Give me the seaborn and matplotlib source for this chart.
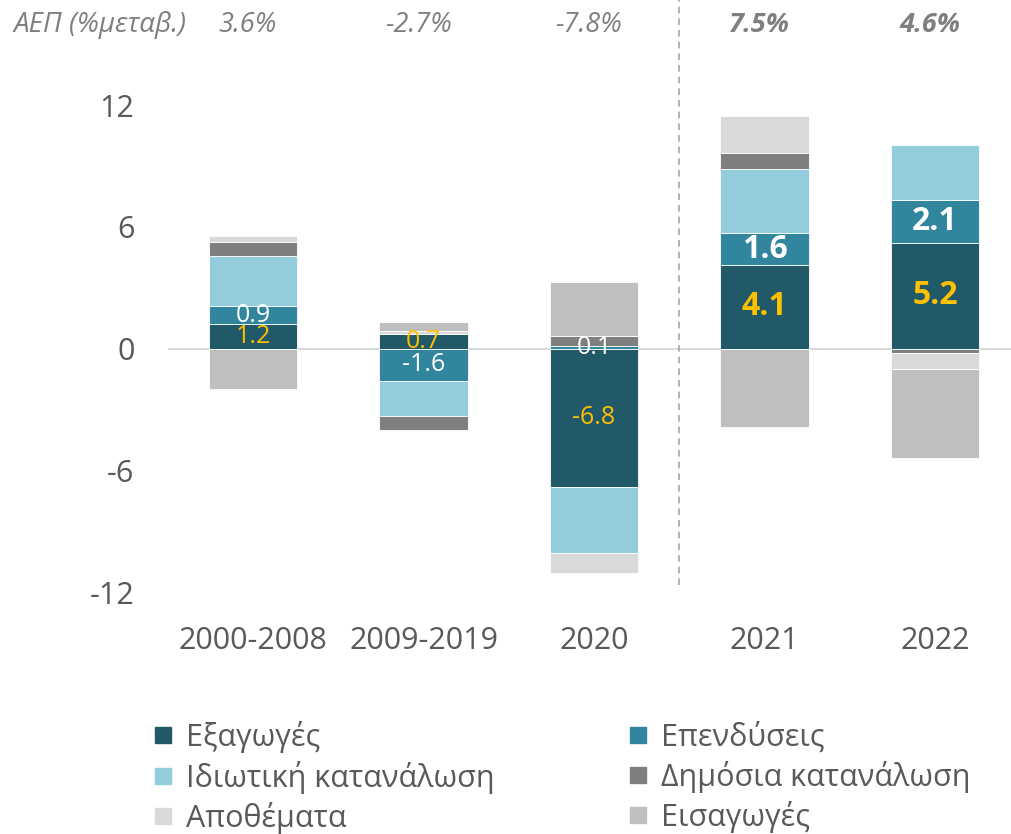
import numpy as np
import pandas as pd
import seaborn as sns
import matplotlib.pyplot as plt
from matplotlib.lines import Line2D

# data (contributions to GDP growth, pp)
periods = ["2000-2008", "2009-2019", "2020", "2021", "2022"]
gdp_growth = [3.6, -2.7, -7.8, 7.5, 4.6]
exports = [1.2, 0.7, -6.8, 4.1, 5.2]
investment = [0.9, -1.6, 0.1, 1.6, 2.1]
private_cons = [2.45, -1.74, -3.3, 3.14, 2.73]
public_cons = [0.7, -0.69, 0.5, 0.8, -0.22]
inventories = [0.3, 0.15, -0.95, 1.82, -0.79]
imports = [-2.0, 0.46, 2.68, -3.89, -4.4]

names = ["Εξαγωγές", "Επενδύσεις", "Ιδιωτική κατανάλωση",
         "Δημόσια κατανάλωση", "Αποθέματα", "Εισαγωγές"]
colors = ["#215968", "#31859c", "#93cddd", "#7f7f7f", "#d9d9d9", "#bfbfbf"]
series = [exports, investment, private_cons, public_cons, inventories, imports]

sns.set_theme(style="white")
plt.rcParams["font.family"] = ["Open Sans", "DejaVu Sans"]

txt = "#595959"
fig = plt.figure(figsize=(10.12, 8.34), dpi=100)
ax = fig.add_axes([0.1658, 0.2658, 0.834, 0.6326])

pos_base = np.zeros(len(periods))
neg_base = np.zeros(len(periods))
for name, vals, col in zip(names, series, colors):
    vals = np.array(vals, dtype=float)
    bottom = np.where(vals >= 0, pos_base, neg_base)
    df = pd.DataFrame({"period": periods, "value": vals})
    sns.barplot(data=df, x="period", y="value", order=periods, color=col,
                saturation=1, width=0.52, bottom=bottom, edgecolor="white",
                linewidth=0.6, errorbar=None, ax=ax)
    pos_base = np.where(vals >= 0, pos_base + vals, pos_base)
    neg_base = np.where(vals < 0, neg_base + vals, neg_base)

# value labels for exports and investment
for i in range(len(periods)):
    big = i >= 3
    fs = 23 if big else 18
    fw = "bold" if big else "normal"
    e = exports[i]
    ax.text(i, e / 2, f"{e:.1f}", ha="center", va="center", color="#ffc000",
            fontsize=fs, fontweight=fw)
    v = investment[i]
    start = e if (v >= 0) == (e >= 0) else 0
    ax.text(i, start + v / 2, f"{v:.1f}", ha="center", va="center",
            color="white", fontsize=fs, fontweight=fw)

ax.axhline(0, color="#d9d9d9", lw=1.5, zorder=0.5)
ax.set_xlim(-0.5, 4.45)
ax.set_ylim(-13, 13)
ax.set_yticks([-12, -6, 0, 6, 12])
ax.set_yticklabels(["-12", "-6", "0", "6", "12"])
ax.set_xlabel("")
ax.set_ylabel("")
ax.tick_params(axis="y", labelsize=22, labelcolor=txt, pad=24, length=0)
ax.tick_params(axis="x", labelsize=22, labelcolor=txt, pad=10, length=0)
sns.despine(ax=ax, left=True, bottom=True)

# dashed separator between history and forecasts
ax.plot([2.5, 2.5], [-11.66, 17.2], color="#a6a6a6", lw=1.2,
        ls=(0, (4, 3)), clip_on=False)

# GDP growth row on top
ax.text(-0.9, 15.95, "ΑΕΠ (%μεταβ.)", ha="center", va="center", color="#7f7f7f",
        fontsize=20, style="italic")
for i, g in enumerate(gdp_growth):
    ax.text(i - 0.03, 15.95, f"{g:.1f}%", ha="center", va="center", color="#7f7f7f",
            fontsize=19.5, style="italic", fontweight="bold" if i >= 3 else "normal")

handles = [Line2D([], [], marker="s", ls="none", markersize=11,
                  markerfacecolor=c, markeredgecolor=c) for c in colors]
order = [0, 2, 4, 1, 3, 5]
fig.legend([handles[k] for k in order], [names[k] for k in order],
           loc="upper left", bbox_to_anchor=(0.152, 0.1355), ncol=2, frameon=False,
           fontsize=22, labelcolor=txt, handlelength=0.6, handletextpad=0.45,
           columnspacing=4.4, labelspacing=0.26, borderpad=0, borderaxespad=0)

fig.savefig("out.png", dpi=100)
